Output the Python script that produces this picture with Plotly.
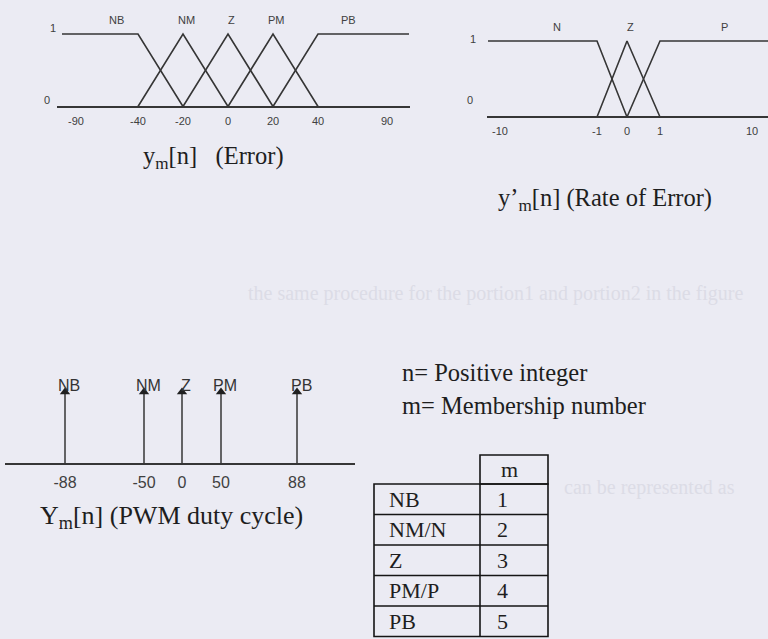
import numpy as np
import plotly.graph_objects as go

W, H = 768, 639

# ---------------- data ----------------
# Error input y_m[n]: fuzzy sets as (breakpoint, membership degree)
err_names = ["NB", "NM", "Z", "PM", "PB"]
err_breaks = [[-100, -40, -20], [-40, -20, 0], [-20, 0, 20], [0, 20, 40], [20, 40, 100]]
err_degree = [[1, 1, 0], [0, 1, 0], [0, 1, 0], [0, 1, 0], [0, 1, 1]]
err_label_at = [-60, -20, 0, 20, 60]
err_ticks = [-90, -40, -20, 0, 20, 40, 90]

# Rate of error y'_m[n]
rate_names = ["N", "Z", "P"]
rate_breaks = [[-11, -1, 0], [-1, 0, 1], [0, 1, 11]]
rate_degree = [[1, 1, 0], [0, 1, 0], [0, 1, 1]]
rate_label_at = [-5, 0, 7]
rate_ticks = [-10, -1, 0, 1, 10]

# Output Y_m[n]: singleton PWM duty cycles
pwm_names = ["NB", "NM", "Z", "PM", "PB"]
pwm_values = [-88, -50, 0, 50, 88]
pwm_degree = [1, 1, 1, 1, 1]

# Membership numbering
table_sets = ["NB", "NM/N", "Z", "PM/P", "PB"]
table_m = [1, 2, 3, 4, 5]

notes = ["n= Positive integer", "m= Membership number"]

# ---------------- layout helpers ----------------
# the sketches are not drawn to scale: each axis maps values to a drawing position (px)
ERR_SCALE = ([-100, -90, -40, -20, 0, 20, 40, 90, 100], [62, 76, 138, 183, 228, 273, 318, 387, 409])
RATE_SCALE = ([-11, -10, -1, 0, 1, 10, 11], [488, 500, 597, 627, 660, 752, 770])
PWM_SCALE = ([-88, -50, 0, 50, 88], [65, 144, 182, 221, 297])


def to_pos(vals, scale):
    return list(np.interp(np.asarray(vals, dtype=float), scale[0], scale[1]))


def px_x(px):
    return px / W


def px_y(py):
    return 1 - py / H


def y_domain(y0_px, y1_px, rng):
    def py(v):
        return y0_px - v * (y0_px - y1_px)
    return [px_y(py(rng[0])), px_y(py(rng[1]))]


BG = "#ebebf3"
INK = "#363636"
TEXT = "#1e1e1e"
SANS = "Liberation Sans, Arial, sans-serif"
SERIF = "Liberation Serif, Times New Roman, serif"
SP = "&nbsp;"

fig = go.Figure()

# panel geometry (px): x extent, y of degree 0 and degree 1, y range
P1 = dict(x=(57, 410), y0=106.5, y1=34, rng=(-0.03, 1.12))
P2 = dict(x=(487, 768), y0=117, y1=41, rng=(-0.03, 1.12))
P3 = dict(x=(5, 355), y0=463.5, y1=392, rng=(-0.03, 1.2))

# ---- error membership functions ----
for name, xs, ys in zip(err_names, err_breaks, err_degree):
    fig.add_trace(go.Scatter(x=to_pos(xs, ERR_SCALE), y=ys, mode="lines", name=name,
                             line=dict(color=INK, width=1.6), xaxis="x", yaxis="y",
                             showlegend=False, hoverinfo="skip"))

# ---- rate-of-error membership functions ----
for name, xs, ys in zip(rate_names, rate_breaks, rate_degree):
    fig.add_trace(go.Scatter(x=to_pos(xs, RATE_SCALE), y=ys, mode="lines", name=name,
                             line=dict(color=INK, width=1.6), xaxis="x2", yaxis="y2",
                             showlegend=False, hoverinfo="skip"))

# ---- output singletons (stems with arrow heads) ----
sx, sy = [], []
for p, d in zip(to_pos(pwm_values, PWM_SCALE), pwm_degree):
    sx += [p, p, None]
    sy += [0, d, None]
fig.add_trace(go.Scatter(x=sx, y=sy, mode="lines", line=dict(color=INK, width=1.5),
                         xaxis="x3", yaxis="y3", showlegend=False, hoverinfo="skip"))
fig.add_trace(go.Scatter(x=to_pos(pwm_values, PWM_SCALE), y=pwm_degree, mode="markers",
                         marker=dict(symbol="triangle-up", size=9, color="#202020"),
                         cliponaxis=False, xaxis="x3", yaxis="y3",
                         showlegend=False, hoverinfo="skip"))


def xaxis_cfg(panel, ticks, scale, size, standoff):
    return dict(range=list(panel["x"]), domain=[px_x(panel["x"][0]), px_x(panel["x"][1])],
                showgrid=False, zeroline=False, showline=False, ticks="",
                tickmode="array", tickvals=to_pos(ticks, scale), ticktext=[str(t) for t in ticks],
                tickfont=dict(family=SANS, size=size, color="#404040"),
                ticklabelstandoff=standoff, fixedrange=True)


def yaxis_cfg(panel, anchor):
    return dict(range=list(panel["rng"]), domain=y_domain(panel["y0"], panel["y1"], panel["rng"]),
                showgrid=False, showticklabels=False, ticks="", showline=False,
                zeroline=True, zerolinecolor=INK, zerolinewidth=1.7, anchor=anchor, fixedrange=True)


ann = []

# set names above the curves
for name, v in zip(err_names, err_label_at):
    ann.append(dict(x=to_pos([v], ERR_SCALE)[0], y=1, xref="x", yref="y", text=name,
                    showarrow=False, xshift=3, yshift=14,
                    font=dict(family=SANS, size=11, color="#404040")))
for name, v in zip(rate_names, rate_label_at):
    ann.append(dict(x=to_pos([v], RATE_SCALE)[0], y=1, xref="x2", yref="y2", text=name,
                    showarrow=False, xshift=3, yshift=14,
                    font=dict(family=SANS, size=11, color="#404040")))
for name, p, d in zip(pwm_names, to_pos(pwm_values, PWM_SCALE), pwm_degree):
    ann.append(dict(x=p, y=d, xref="x3", yref="y3", text=name, showarrow=False,
                    xshift=4, yshift=7, font=dict(family=SANS, size=16, color="#333333")))

# degree labels on the fuzzy set sketches
for txt, xpx, yv, ys, yref in [("1", 48, 1, 6, "y"), ("0", 42, 0, 6.5, "y"),
                               ("1", 473, 1, 2, "y2"), ("0", 470, 0, 17, "y2")]:
    ann.append(dict(x=px_x(xpx), y=yv, xref="paper", yref=yref, text=txt, showarrow=False,
                    yshift=ys, font=dict(family=SANS, size=11, color="#404040")))

# captions
captions = [("y<sub>m</sub>[n]" + SP * 3 + "(Error)", 213, 157, 24.5),
            ("y\u2019<sub>m</sub>[n] (Rate of Error)", 605, 199, 24.5),
            ("Y<sub>m</sub>[n] (PWM duty cycle)", 171, 517, 26)]
for txt, xpx, ypx, fs in captions:
    ann.append(dict(x=px_x(xpx), y=px_y(ypx), xref="paper", yref="paper", text=txt,
                    showarrow=False, xanchor="center", yanchor="middle",
                    font=dict(family=SERIF, size=fs, color=TEXT)))

for i, line in enumerate(notes):
    ann.append(dict(x=px_x(400), y=px_y(372 + 33 * i), xref="paper", yref="paper", text=line,
                    showarrow=False, xanchor="left", yanchor="middle",
                    font=dict(family=SERIF, size=24.5, color=TEXT)))

# faint show-through from the neighbouring page
GHOST = "#dcdce6"
for txt, xpx, ypx in [("the same procedure for the portion1 and portion2 in the figure", 246, 293),
                      ("can be represented as", 562, 487)]:
    ann.append(dict(x=px_x(xpx), y=px_y(ypx), xref="paper", yref="paper", text=txt,
                    showarrow=False, xanchor="left", yanchor="middle",
                    font=dict(family=SERIF, size=20, color=GHOST)))

# ---- membership number table ----
L, D, R = 374, 480, 548
HT, TOP, RH = 455, 484, 30.5
BOT = TOP + RH * len(table_sets)
line = dict(color="#151515", width=1.6)
shapes = [dict(type="rect", xref="paper", yref="paper", x0=px_x(D), x1=px_x(R),
               y0=px_y(TOP), y1=px_y(HT), line=line),
          dict(type="rect", xref="paper", yref="paper", x0=px_x(L), x1=px_x(R),
               y0=px_y(BOT), y1=px_y(TOP), line=line),
          dict(type="line", xref="paper", yref="paper", x0=px_x(D), x1=px_x(D),
               y0=px_y(BOT), y1=px_y(TOP), line=line)]
for i in range(1, len(table_sets)):
    yy = px_y(TOP + RH * i)
    shapes.append(dict(type="line", xref="paper", yref="paper", x0=px_x(L), x1=px_x(R),
                       y0=yy, y1=yy, line=line))

ann.append(dict(x=px_x(D + 19), y=px_y((HT + TOP) / 2), xref="paper", yref="paper", text="m",
                showarrow=False, xanchor="left", yanchor="middle",
                font=dict(family=SERIF, size=22, color=TEXT)))
for i, (s, m) in enumerate(zip(table_sets, table_m)):
    yc = px_y(TOP + RH * (i + 0.5))
    ann.append(dict(x=px_x(L + 13), y=yc, xref="paper", yref="paper", text=s, showarrow=False,
                    xanchor="left", yanchor="middle", font=dict(family=SERIF, size=22, color=TEXT)))
    ann.append(dict(x=px_x(D + 15), y=yc, xref="paper", yref="paper", text=str(m),
                    showarrow=False, xanchor="left", yanchor="middle",
                    font=dict(family=SERIF, size=22, color=TEXT)))

fig.update_layout(
    width=W, height=H, margin=dict(l=0, r=0, t=0, b=0),
    paper_bgcolor=BG, plot_bgcolor=BG, showlegend=False,
    xaxis=xaxis_cfg(P1, err_ticks, ERR_SCALE, 11, 4),
    yaxis=yaxis_cfg(P1, "x"),
    xaxis2=dict(xaxis_cfg(P2, rate_ticks, RATE_SCALE, 11, 4), anchor="y2"),
    yaxis2=yaxis_cfg(P2, "x2"),
    xaxis3=dict(xaxis_cfg(P3, pwm_values, PWM_SCALE, 16, 5), anchor="y3"),
    yaxis3=yaxis_cfg(P3, "x3"),
    annotations=ann, shapes=shapes,
)

fig.write_html("out.html")
